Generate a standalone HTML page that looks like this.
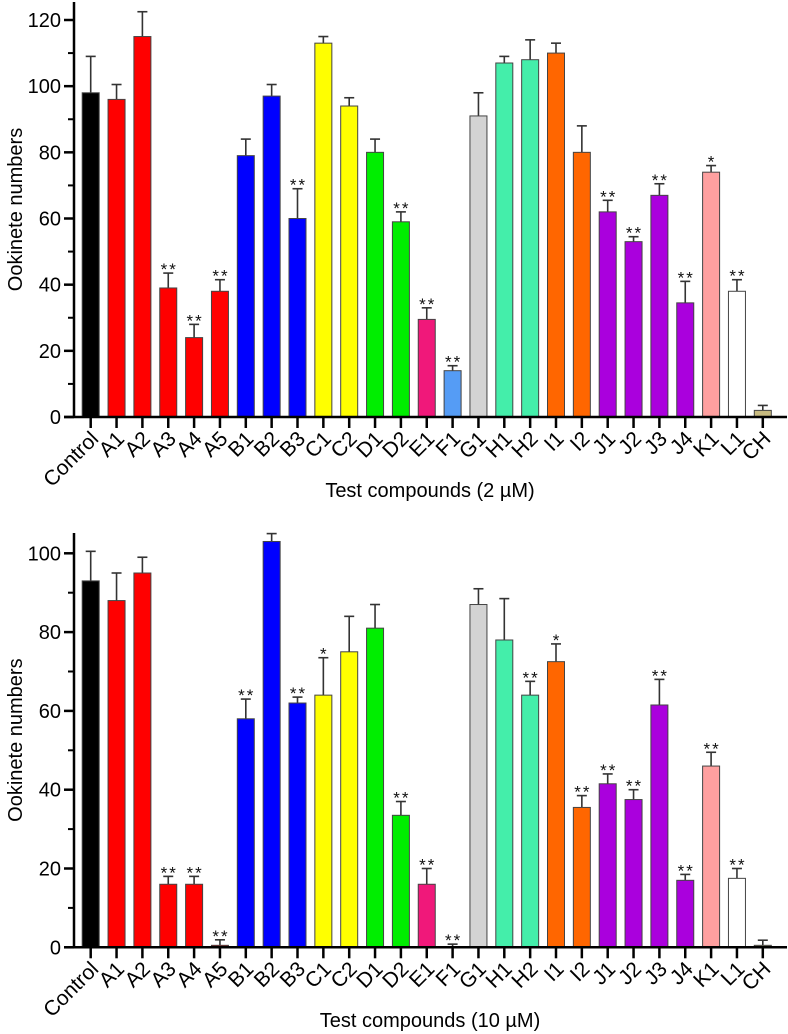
<!DOCTYPE html>
<html><head><meta charset="utf-8"><style>
html,body{margin:0;padding:0;background:#fff;}
svg{display:block;font-family:"Liberation Sans",Arial,sans-serif;}
</style></head><body>
<svg id="chart" width="788" height="1034" viewBox="0 0 788 1034"></svg>
<script>
const categories=["Control","A1","A2","A3","A4","A5","B1","B2","B3","C1","C2","D1","D2","E1","F1","G1","H1","H2","I1","I2","J1","J2","J3","J4","K1","L1","CH"];
const colors=["#000000","#ff0000","#ff0000","#ff0000","#ff0000","#ff0000","#0000ff","#0000ff","#0000ff","#ffff00","#ffff00","#00ee00","#00ee00","#f0187a","#559cf5","#d3d3d3","#44eeaa","#44eeaa","#ff6600","#ff6600","#aa00dd","#aa00dd","#aa00dd","#aa00dd","#ffa0a0","#ffffff","#c8bb80"];
const means2=[98,96,115,39,24,38,79,97,60,113,94,80,59,29.5,14,91,107,108,110,80,62,53,67,34.5,74,38,2];
const errs2=[11,4.5,7.5,4.5,4,3.5,5,3.5,9,2,2.5,4,3,3.5,1.5,7,2,6,3,8,3.5,1.5,3.5,6.5,2,3.5,1.5];
const stars2=["","","","**","**","**","","","**","","","","**","**","**","","","","","","**","**","**","**","*","**",""];
const means10=[93,88,95,16,16,0.5,58,103,62,64,75,81,33.5,16,0.2,87,78,64,72.5,35.5,41.5,37.5,61.5,17,46,17.5,0.5];
const errs10=[7.5,7,4,2,2,1.4,5,2,1.5,9.5,9,6,3.5,4,0.6,4,10.5,3.5,4.5,3,2.5,2.5,6.5,1.5,3.5,2.5,1.3];
const stars10=["","","","**","**","**","**","","**","*","","","**","**","**","","","**","*","**","**","**","**","**","**","**",""];
const yTicks2=[0,20,40,60,80,100,120];
const yTicks10=[0,20,40,60,80,100];

const NS="http://www.w3.org/2000/svg";
const svg=document.getElementById('chart');
function mk(tag,attrs,parent){const e=document.createElementNS(NS,tag);for(const k in attrs)e.setAttribute(k,attrs[k]);(parent||svg).appendChild(e);return e;}

function drawChart(cfg){
  const g=mk('g',{});
  
  
  const axX=74, x0=90.7, step=25.85, bw=17;
  const yS=v=>cfg.y0-(v/cfg.yRef)*(cfg.y0-cfg.yRefPx);
  const xS=i=>x0+i*step;
  categories.forEach((c,i)=>{
    const cx=xS(i), top=yS(cfg.means[i]), et=yS(cfg.means[i]+cfg.errs[i]);
    const el=mk('line',{x1:cx,x2:cx,y1:top,y2:et,stroke:'#333','stroke-width':1.6},g);
    
    
    const cap=mk('line',{x1:cx-5,x2:cx+5,y1:et,y2:et,stroke:'#333','stroke-width':1.6},g);
    
    
    const r=mk('rect',{x:cx-bw/2,y:top,width:bw,height:Math.max(cfg.y0-top,0),fill:colors[i],stroke:'#444','stroke-width':1},g);
    
    
    if(cfg.stars[i]){
      const t=mk('text',{x:cx+1,y:et+2,'text-anchor':'middle','font-size':17,fill:'#111','letter-spacing':'2'},g);
      t.textContent=cfg.stars[i];
      
      
    }
    const tk=mk('line',{x1:cx,x2:cx,y1:cfg.y0,y2:cfg.y0+11,stroke:'#000','stroke-width':2.5},g);
    
    
    const lx=cx+9, ly=cfg.y0+23;
    const lbl=mk('text',{x:lx,y:ly,'text-anchor':'end','font-size':21,transform:`rotate(-45 ${lx} ${ly})`},g);
    lbl.textContent=c;
    
    
  });
  const ya=mk('line',{x1:axX,x2:axX,y1:cfg.axTop,y2:cfg.y0+1,stroke:'#000','stroke-width':2.5},g);
  
  
  const xa=mk('line',{x1:64,x2:787,y1:cfg.y0,y2:cfg.y0,stroke:'#000','stroke-width':2.5},g);
  
  
  cfg.ticks.forEach((v,i)=>{
    const y=yS(v);
    const t=mk('line',{x1:axX-10,x2:axX,y1:y,y2:y,stroke:'#000','stroke-width':2.5},g);
    
    
    const l=mk('text',{x:axX-13,y:y+7,'text-anchor':'end','font-size':20},g);
    l.textContent=v;
    
    
    if(i<cfg.ticks.length-1){
      const ym=yS(v+10);
      const m=mk('line',{x1:axX-6,x2:axX,y1:ym,y2:ym,stroke:'#000','stroke-width':2},g);
      
      
    }
  });
  const my=(cfg.axTop+cfg.y0)/2;
  const yt=mk('text',{x:22,y:my,'text-anchor':'middle','font-size':20,transform:`rotate(-90 22 ${my})`},g);
  yt.textContent='Ookinete numbers';
  
  
  const xt=mk('text',{x:430,y:cfg.titleY,'text-anchor':'middle','font-size':20},g);
  xt.textContent=cfg.xTitle;
  
  
}
drawChart({name:'chart-2um',means:means2,errs:errs2,stars:stars2,ticks:yTicks2,y0:417,yRef:120,yRefPx:20,axTop:2,titleY:497,xTitle:'Test compounds (2 \u00b5M)'});
drawChart({name:'chart-10um',means:means10,errs:errs10,stars:stars10,ticks:yTicks10,y0:947.3,yRef:100,yRefPx:553.3,axTop:533,titleY:1027,xTitle:'Test compounds (10 \u00b5M)'});
</script>
</body></html>
